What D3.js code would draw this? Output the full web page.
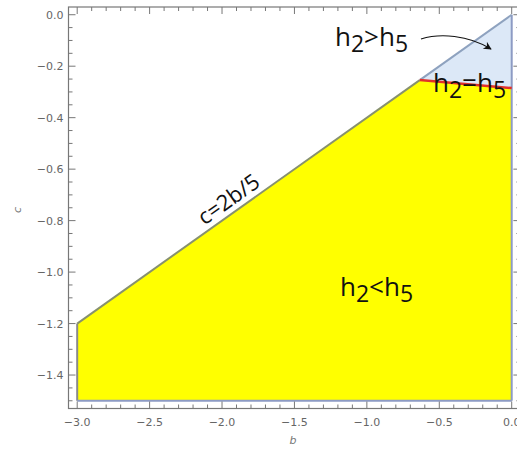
<!DOCTYPE html>
<html>
<head>
<meta charset="utf-8">
<script src="https://cdn.jsdelivr.net/npm/d3@7"></script>
<style>
  html, body { margin: 0; padding: 0; background: #fff; }
  svg { display: block; }
</style>
</head>
<body>
<script>
// Region h2 < h5 (yellow), bounded above by c = 2b/5 and the curve h2 = h5
const lowerB = [-3.0, -3.0, -0.635, 0.0, 0.0];
const lowerC = [-1.5, -1.2, -0.254, -0.285, -1.5];
// Region h2 > h5 (light blue)
const upperB = [0.0, -0.635, 0.0];
const upperC = [0.0, -0.254, -0.285];
// Boundary h2 = h5
const equalB = [-0.635, 0.0];
const equalC = [-0.254, -0.285];
// Line c = 2b/5
const lineB = [-3.0, -0.635];
const lineC = [-1.2, -0.254];
const lineUpperB = [-0.635, 0.0];
const lineUpperC = [-0.254, 0.0];

const bTicks = [-3.0, -2.5, -2.0, -1.5, -1.0, -0.5, 0.0];
const cTicks = [0.0, -0.2, -0.4, -0.6, -0.8, -1.0, -1.2, -1.4];

const W = 517, H = 452;
const svg = d3.select("body").append("svg").attr("width", W).attr("height", H);

const x = d3.scaleLinear().domain([-3.06, 0.06]).range([68.5, 520.4]);
const y = d3.scaleLinear().domain([-1.53, 0.03]).range([408.5, 7]);

const pts = (bs, cs) => bs.map((b, i) => [x(b), y(cs[i])]);
const line = d3.line();

// filled regions
svg.append("path").attr("d", line(pts(lowerB, lowerC)) + "Z")
  .attr("fill", "#ffff00");
svg.append("path").attr("d", line(pts(upperB, upperC)) + "Z")
  .attr("fill", "#dce8f7");

// region boundaries
svg.append("path").attr("d", line(pts([-3.0, -3.0], [-1.5, -1.2])))
  .attr("stroke", "#8a8a8a").attr("stroke-width", 2).attr("fill", "none");
svg.append("path").attr("d", line(pts([-3.0, 0.0], [-1.5, -1.5])))
  .attr("stroke", "#8d9bc4").attr("stroke-width", 2).attr("fill", "none");
svg.append("path").attr("d", line(pts([0.0, 0.0], [-1.5, 0.0])))
  .attr("stroke", "#8d9bc4").attr("stroke-width", 2).attr("fill", "none");
svg.append("path").attr("d", line(pts(lineB, lineC)))
  .attr("stroke", "#87916e").attr("stroke-width", 2).attr("fill", "none");
svg.append("path").attr("d", line(pts(lineUpperB, lineUpperC)))
  .attr("stroke", "#8ea2bf").attr("stroke-width", 2).attr("fill", "none");
svg.append("path").attr("d", line(pts(equalB, equalC)))
  .attr("stroke", "#e0302c").attr("stroke-width", 2.5).attr("fill", "none");

// frame
const frameColor = "#777";
const x0 = x.range()[0], x1 = x.range()[1], yb = y.range()[0], yt = y.range()[1];
svg.append("rect").attr("x", x0).attr("y", yt).attr("width", x1 - x0).attr("height", yb - yt)
  .attr("fill", "none").attr("stroke", frameColor).attr("stroke-width", 1.2);

const minorB = d3.range(-30, 1).map(v => v / 10).filter(v => !bTicks.some(t => Math.abs(t - v) < 1e-9));
const minorC = d3.range(-30, 1).map(v => v / 20).filter(v => !cTicks.some(t => Math.abs(t - v) < 1e-9));

const tickG = svg.append("g").attr("stroke", frameColor).attr("stroke-width", 1);
bTicks.forEach(b => {
  tickG.append("line").attr("x1", x(b)).attr("x2", x(b)).attr("y1", yb).attr("y2", yb - 7);
  tickG.append("line").attr("x1", x(b)).attr("x2", x(b)).attr("y1", yt).attr("y2", yt + 7);
});
minorB.forEach(b => {
  tickG.append("line").attr("x1", x(b)).attr("x2", x(b)).attr("y1", yb).attr("y2", yb - 4);
  tickG.append("line").attr("x1", x(b)).attr("x2", x(b)).attr("y1", yt).attr("y2", yt + 4);
});
cTicks.forEach(c => {
  tickG.append("line").attr("x1", x0).attr("x2", x0 + 7).attr("y1", y(c)).attr("y2", y(c));
  tickG.append("line").attr("x1", x1).attr("x2", x1 - 7).attr("y1", y(c)).attr("y2", y(c));
});
minorC.forEach(c => {
  tickG.append("line").attr("x1", x0).attr("x2", x0 + 4).attr("y1", y(c)).attr("y2", y(c));
  tickG.append("line").attr("x1", x1).attr("x2", x1 - 4).attr("y1", y(c)).attr("y2", y(c));
});

const fmt = v => d3.format(".1f")(v).replace("-", "\u2212");
const labFont = "DejaVu Sans, sans-serif";
svg.append("g").selectAll("text").data(bTicks).join("text")
  .attr("x", d => x(d)).attr("y", yb + 17)
  .attr("text-anchor", "middle").attr("font-family", labFont).attr("font-size", 11)
  .attr("fill", "#666").text(fmt);
svg.append("g").selectAll("text").data(cTicks).join("text")
  .attr("x", x0 - 5).attr("y", d => y(d) + 4)
  .attr("text-anchor", "end").attr("font-family", labFont).attr("font-size", 11)
  .attr("fill", "#666").text(fmt);

// axis titles
svg.append("text").attr("x", 293).attr("y", 444).attr("text-anchor", "middle")
  .attr("font-family", labFont).attr("font-style", "italic").attr("font-size", 11)
  .attr("fill", "#777").text("b");
svg.append("text").attr("transform", "translate(21,210) rotate(-90)").attr("text-anchor", "middle")
  .attr("font-family", labFont).attr("font-style", "italic").attr("font-size", 11)
  .attr("fill", "#777").text("c");

// annotations
const annFont = "Open Sans, sans-serif";
function hLabel(px, py, rel) {
  const t = svg.append("text").attr("x", px).attr("y", py)
    .attr("font-family", annFont).attr("font-size", 26).attr("fill", "#111");
  t.append("tspan").text("h");
  t.append("tspan").attr("dy", 6).attr("font-size", 23).text("2");
  t.append("tspan").attr("dy", -6).text(rel);
  t.append("tspan").text("h");
  t.append("tspan").attr("dy", 6).attr("font-size", 23).text("5");
}
hLabel(335, 46, ">");
hLabel(433, 92, "=");
hLabel(340, 296, "<");

// label along c = 2b/5
const bMid = -1.9;
const px = x(bMid), py = y(0.4 * bMid);
const ang = Math.atan2(y(0) - y(-1.2), x(0) - x(-3.0)) * 180 / Math.PI;
svg.append("text")
  .attr("transform", `translate(${px},${py}) rotate(${ang}) translate(0,-6)`)
  .attr("text-anchor", "middle").attr("font-family", annFont).attr("font-size", 22)
  .attr("fill", "#111").text("c=2b/5");

// curved arrow
svg.append("defs").append("marker").attr("id", "ah")
  .attr("viewBox", "0 0 10 10").attr("refX", 9).attr("refY", 5)
  .attr("markerWidth", 10).attr("markerHeight", 8).attr("markerUnits", "userSpaceOnUse")
  .attr("orient", "auto")
  .append("path").attr("d", "M0,0 L10,5 L0,10 L3,5 Z").attr("fill", "#111");
svg.append("path")
  .attr("d", "M421,39 C440,33 468,35 491,49")
  .attr("fill", "none").attr("stroke", "#111").attr("stroke-width", 1.2)
  .attr("marker-end", "url(#ah)");
</script>
</body>
</html>
